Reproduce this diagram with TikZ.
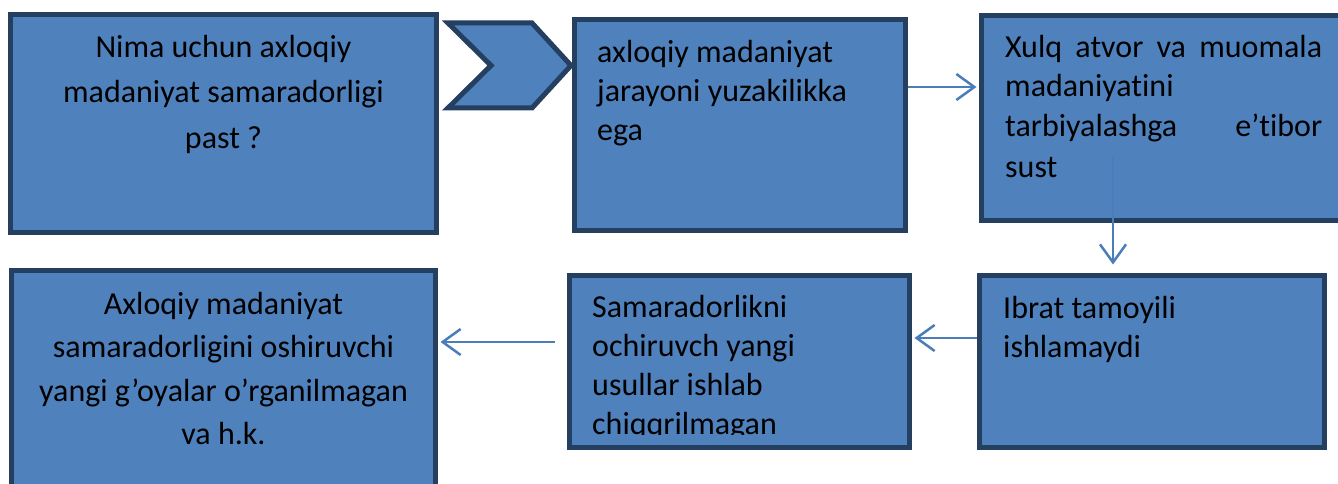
\documentclass[tikz,border=0pt]{standalone}
\usepackage{fontspec}
\setmainfont{Carlito}[Ligatures=CommonOff]
\usetikzlibrary{arrows.meta}
\definecolor{boxfill}{HTML}{4F81BD}
\definecolor{boxline}{HTML}{243F60}
\definecolor{linkcol}{HTML}{4A7EBB}
\tikzset{
  box/.style={draw=boxline, fill=boxfill, line width=5pt, rectangle, inner sep=0pt},
  txt/.style={inner sep=0pt, text=black, font=\fontsize{32}{39}\selectfont},
  link/.style={draw=linkcol, line width=2.5pt, -{Straight Barb[length=18pt,width=26pt,line width=2.5pt]}}
}
\begin{document}
\begin{tikzpicture}[x=1pt,y=1pt]
  \useasboundingbox (0,0) rectangle (1338,483);
  % top row
  \node[box, minimum width=426pt, minimum height=218pt] (b1) at (223.5,359.5) {};
  \draw[boxline, line width=5pt, fill=boxfill, line join=miter]
      (448,460) -- (532,460) -- (571,417.5) -- (532,375) -- (448,375) -- (491,417.5) -- cycle;
  \node[box, minimum width=331pt, minimum height=211pt] (b2) at (740,358) {};
  \node[box, minimum width=378.5pt, minimum height=205pt] (b3) at (1170.75,365) {};
  % bottom row
  \node[box, minimum width=345pt, minimum height=172pt] (b4) at (1152,121.5) {};
  \node[box, minimum width=340pt, minimum height=172pt] (b5) at (739.5,121.5) {};
  \node[box, minimum width=424pt, minimum height=229.5pt] (b6) at (223.5,97.75) {};
  % texts (base = last line)
  \node[txt, anchor=base, align=center, font=\fontsize{32}{45}\selectfont] (t1) at (223.5,335)
      {Nima uchun axloqiy\\madaniyat samaradorligi\\past ?};
  \node[txt, anchor=base west, align=left] (t2) at (597,342)
      {axloqiy madaniyat\\jarayoni yuzakilikka\\ega};
  \node[txt, anchor=base west, align=left, font=\fontsize{32}{40}\selectfont] (t3) at (1005,306)
      {\makebox[317pt][s]{Xulq atvor va muomala}\\madaniyatini\\\makebox[317pt][s]{tarbiyalashga e’tibor}\\sust};
  \node[txt, anchor=base west, align=left] (t4) at (1003,126)
      {Ibrat tamoyili\\ishlamaydi};
  \begin{scope}
    \clip ([shift={(2.5,-2.5)}]b5.north west) rectangle ([xshift=-2.5pt]b5.east |- 0,48.5);
    \node[txt, anchor=base west, align=left] (t5) at (592,49)
        {Samaradorlikni\\ochiruvch yangi\\usullar ishlab\\chiqqrilmagan};
  \end{scope}
  \node[txt, anchor=base, align=center, font=\fontsize{32}{43.5}\selectfont] (t6) at (223.5,38.5)
      {Axloqiy madaniyat\\samaradorligini oshiruvchi\\yangi g’oyalar o’rganilmagan\\va h.k.};
  % connectors
  \coordinate (d1) at (1113,328);
  \draw[link, shorten >=2.5pt] ([yshift=38pt]b2.east) -- ([yshift=31pt]b3.west);
  \draw[link, shorten >=8.5pt] (d1) -- (d1 |- b4.north);
  \draw[link, shorten >=2.5pt] ([yshift=23.5pt]b4.west) -- ([yshift=23.5pt]b5.east);
  \draw[link, shorten <=12.5pt, shorten >=2.5pt] ([yshift=19.5pt]b5.west) -- ([yshift=43.25pt]b6.east);
\end{tikzpicture}
\end{document}
